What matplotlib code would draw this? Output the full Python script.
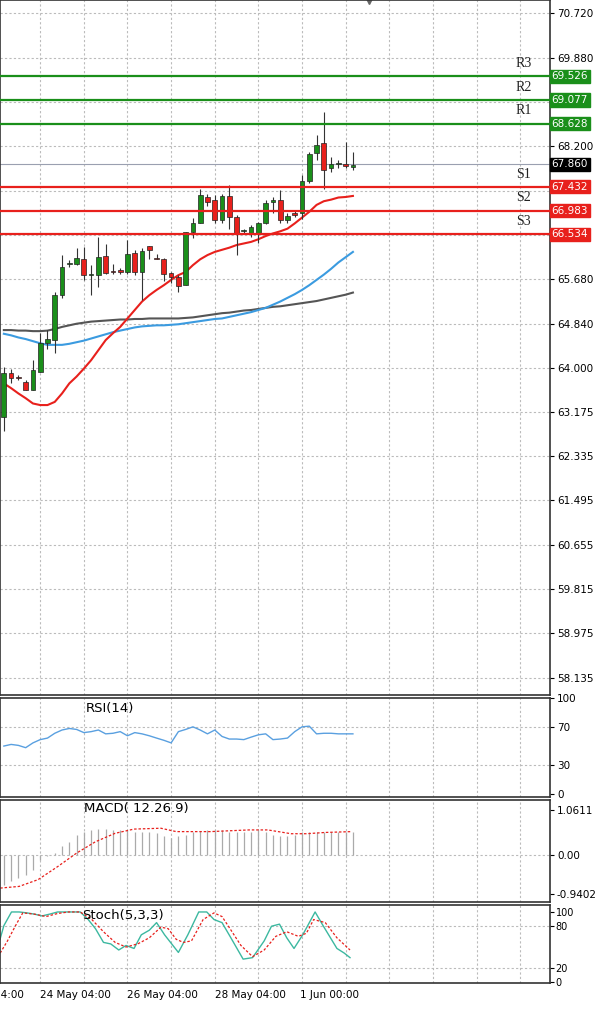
import matplotlib
matplotlib.use("Agg")
import matplotlib.pyplot as plt
import numpy as np

opens = [63.08,63.90,63.84,63.74,63.59,63.93,64.47,64.53,65.38,65.97,65.97,66.06,65.76,65.76,66.12,65.84,65.86,65.82,66.17,65.82,66.31,66.08,66.06,65.81,65.73,65.57,66.58,66.75,67.24,67.18,66.80,67.26,66.87,66.60,66.55,66.56,66.74,67.15,67.19,66.80,66.94,66.93,67.55,68.08,68.27,67.78,67.87,67.87,67.81]
closes = [63.90,63.81,63.81,63.59,63.96,64.47,64.56,65.38,65.92,65.98,66.08,65.76,65.76,66.11,65.81,65.82,65.82,66.16,65.82,66.22,66.23,66.06,65.79,65.73,65.55,66.58,66.74,67.28,67.15,66.80,67.26,66.87,66.56,66.60,66.68,66.74,67.13,67.18,66.80,66.88,66.90,67.55,68.06,68.23,67.76,67.87,67.87,67.82,67.84]
highs = [64.03,63.99,63.87,63.77,64.15,64.66,64.72,65.45,66.14,66.05,66.27,66.30,65.95,66.49,66.35,65.98,65.89,66.42,66.23,66.27,66.31,66.16,66.08,65.82,65.76,66.58,66.85,67.40,67.30,67.28,67.30,67.47,66.90,66.64,66.71,66.77,67.19,67.24,67.37,66.93,66.99,67.66,68.10,68.41,68.85,68.00,67.94,68.29,68.10]
lows = [62.80,63.71,63.77,63.59,63.59,63.93,64.37,64.28,65.32,65.92,65.95,65.67,65.38,65.54,65.79,65.79,65.79,65.79,65.76,65.29,66.06,66.06,65.64,65.62,65.45,65.57,66.46,66.74,67.06,66.75,66.74,66.64,66.14,66.55,66.49,66.36,66.73,66.93,66.74,66.75,66.87,66.83,67.50,67.94,67.40,67.72,67.78,67.78,67.76]

ma_red = [63.71,63.62,63.52,63.43,63.33,63.30,63.30,63.36,63.52,63.71,63.84,63.99,64.15,64.34,64.53,64.66,64.78,64.94,65.10,65.26,65.38,65.48,65.57,65.67,65.76,65.82,65.95,66.06,66.14,66.20,66.24,66.28,66.33,66.36,66.39,66.44,66.50,66.55,66.59,66.64,66.74,66.85,66.96,67.09,67.16,67.19,67.23,67.24,67.26]
ma_blue = [64.65,64.62,64.58,64.55,64.51,64.47,64.44,64.44,64.44,64.46,64.49,64.52,64.56,64.60,64.64,64.68,64.71,64.74,64.77,64.79,64.80,64.81,64.81,64.82,64.83,64.85,64.87,64.89,64.91,64.93,64.94,64.97,65.00,65.03,65.06,65.10,65.14,65.20,65.26,65.33,65.40,65.48,65.57,65.67,65.77,65.88,66.00,66.10,66.20]
ma_grey = [64.72,64.72,64.71,64.71,64.70,64.70,64.71,64.74,64.78,64.81,64.84,64.86,64.88,64.89,64.90,64.91,64.92,64.92,64.93,64.93,64.94,64.94,64.94,64.94,64.94,64.95,64.96,64.98,65.00,65.02,65.04,65.05,65.07,65.09,65.10,65.12,65.14,65.16,65.17,65.19,65.21,65.23,65.25,65.27,65.30,65.33,65.36,65.39,65.43]

level_names = ["R3","R2","R1","S1","S2","S3"]
level_values = [69.526,69.077,68.628,67.432,66.983,66.534]
last_price = 67.860

price_ticks = [70.720,69.880,69.040,68.200,67.360,66.520,65.680,64.840,64.000,63.175,62.335,61.495,60.655,59.815,58.975,58.135]
price_labels = ["70.720","69.880","","68.200","","","65.680","64.840","64.000","63.175","62.335","61.495","60.655","59.815","58.975","58.135"]

rsi = [50,51.7,50.7,48.3,53.3,56.7,58.3,63.3,66.7,68.3,67.3,64,65,66.7,62.7,63.3,65,60.7,64,62.7,60.7,58.3,56,53.3,65,67.3,70,66.7,62.7,66.7,60,57.3,57.3,56.7,59.3,61.7,62.7,56.7,57.3,58.3,65,70,70.7,62.7,63.3,63.3,62.7,62.7,62.7]

macd_hist = [-0.71,-0.63,-0.55,-0.47,-0.35,-0.12,-0.02,0.04,0.20,0.31,0.47,0.55,0.59,0.61,0.61,0.59,0.59,0.59,0.55,0.55,0.55,0.52,0.44,0.40,0.44,0.47,0.55,0.57,0.59,0.59,0.59,0.55,0.55,0.55,0.55,0.59,0.55,0.47,0.44,0.44,0.47,0.55,0.55,0.55,0.55,0.55,0.55,0.55,0.55]
sig_x = [-0.5,2.1,4.7,7.4,10,12.6,15.3,17.9,21.6,23.7,28.4,33.7,36.3,39.5,41.6,44.2,47.8]
sig_v = [-0.79,-0.75,-0.59,-0.28,0.04,0.31,0.51,0.61,0.63,0.55,0.55,0.59,0.59,0.50,0.50,0.53,0.55]

stk_x = [-0.53,0,1.05,2.1,3.16,4.2,5.26,6.3,7.4,8.4,9.5,10.5,11.6,12.6,13.7,14.7,15.8,16.8,17.9,18.9,20,21,22.1,24,25.3,26.8,27.9,28.9,30,31.1,32.9,34.2,35.8,36.8,37.9,38.9,39.9,41.1,42.8,43.9,45.8,46.8,47.6]
stk_k = [60.7,80.3,100,100,98.7,96.9,94.3,96.9,100,100,100,100,89.1,76,56.3,54.1,45.4,51.9,47.6,67.2,73.8,84.7,67.2,41.9,67.2,100,100,89.1,84.7,65,32.3,34.4,58.5,79.5,82.5,62.9,47.6,67.2,100,80.3,47.6,41,34.4]
std_x = [-0.5,0.5,1.6,2.6,4.2,5.8,7.4,8.9,10.5,12.1,13.7,15.3,16.8,18.4,20,21.6,22.6,23.7,24.7,25.8,27.4,28.9,30,31.1,32.6,34.2,35.8,37.4,38.9,40.5,41.6,42.6,44.2,45.8,47.6]
std_d = [41,58.5,80.3,98.7,96.9,93.4,97.8,100,100,89.1,71.6,56.3,49.7,54.1,62.9,78.2,76,60.7,56.3,58.5,89.1,98.7,93.4,76,51.9,35.8,45.4,65,71.6,65,69.4,89.1,84.7,62.9,45.4]

xtick_pos = [-7,5,17,29,40.7]
xtick_labels = ["23 May 04:00","24 May 04:00","26 May 04:00","28 May 04:00","1 Jun 00:00"]
vgrid = [5,11,17,23,29,35,41,47,53,59,65,71]

W, H = 600, 1013
fig = plt.figure(figsize=(6, 10.13), dpi=100)
XL = (-0.53, 75.1)
GREEN = "#1a8f1a"; RED = "#e8201c"

def mk(top, bot):
    return fig.add_axes([0, (H-bot)/H, 550/W, (bot-top)/H])

ax = mk(0, 695); ar = mk(698, 797); am = mk(800, 902); ast = mk(905, 983)
for a in (ax, ar, am, ast):
    a.set_xlim(*XL)
    a.yaxis.tick_right()
    a.tick_params(axis='y', labelsize=7.5, length=3, pad=2)
    a.tick_params(axis='x', length=0)
    a.set_xticks([])
    for v in vgrid:
        a.axvline(v, color="#bbbbbb", ls=(0,(2,2)), lw=0.8, zorder=0)
    for s in a.spines.values():
        s.set_color("#333333"); s.set_linewidth(1.2)

# main
ax.set_ylim(57.81, 70.97)
ax.set_yticks(price_ticks); ax.set_yticklabels(price_labels)
for p in price_ticks:
    ax.axhline(p, color="#bbbbbb", ls=(0,(2,2)), lw=0.8, zorder=0)
idx = np.arange(len(opens))
for i in idx:
    o, c, h, l = opens[i], closes[i], highs[i], lows[i]
    col = GREEN if c >= o else RED
    ax.vlines(i, l, h, color="#333333", lw=0.8, zorder=3)
    ax.bar(i, max(abs(c-o), 0.02), bottom=min(o, c), width=0.65, color=col, edgecolor="#222222", lw=0.5, zorder=4)
ax.plot(idx, ma_grey, color="#555555", lw=1.5, zorder=2)
ax.plot(idx, ma_blue, color="#3b9be0", lw=1.5, zorder=2)
ax.plot(idx, ma_red, color="#e8201c", lw=1.5, zorder=2)
ax.axhline(last_price, color="#9aa0b0", lw=0.8, zorder=1)
for n, v in zip(level_names, level_values):
    col = GREEN if n.startswith("R") else RED
    ax.axhline(v, color=col, lw=1.6, zorder=5)
    ax.text(71.5, v + 0.12, n, fontsize=10, family="Liberation Serif", ha="center", va="bottom", color="#222222")
    ax.annotate(f"{v:.3f}", xy=(1.003, v), xycoords=('axes fraction', 'data'), fontsize=7.5, color="white",
                va="center", ha="left", annotation_clip=False,
                bbox=dict(boxstyle="square,pad=0.15", fc=col, ec=col))
ax.annotate(f"{last_price:.3f}", xy=(1.003, last_price), xycoords=('axes fraction', 'data'), fontsize=7.5, color="white",
            va="center", ha="left", annotation_clip=False,
            bbox=dict(boxstyle="square,pad=0.15", fc="black", ec="black"))

# RSI
ar.set_ylim(-3, 100)
ar.set_yticks([0, 30, 70, 100])
for v in (30, 70):
    ar.axhline(v, color="#bbbbbb", ls=(0,(2,2)), lw=0.8, zorder=0)
ar.plot(idx, rsi, color="#5aa0e0", lw=1)
ar.text(11.2, 96, "RSI(14)", fontsize=9.5, va="top")

# MACD
am.set_ylim(-1.12, 1.30)
am.set_yticks([-0.9402, 0, 1.0611]); am.set_yticklabels(["-0.9402", "0.00", "1.0611"])
am.axhline(0, color="#bbbbbb", ls=(0,(2,2)), lw=0.8, zorder=0)
am.vlines(idx, 0, macd_hist, color="#aaaaaa", lw=0.9)
am.plot(sig_x, sig_v, color="#e8201c", ls=(0,(2,1.5)), lw=0.9)
am.text(11, 1.25, "MACD( 12.26.9)", fontsize=9.5, va="top")

# Stoch
ast.set_ylim(-2, 110)
ast.set_yticks([0, 20, 80, 100])
ast.tick_params(axis='y', labelsize=7, pad=1)
ast.axhline(20, color="#bbbbbb", ls=(0,(2,2)), lw=0.8, zorder=0)
ast.axhline(80, color="#bbbbbb", ls=(0,(2,2)), lw=0.8, zorder=0)
ast.plot(stk_x, stk_k, color="#3cb8a0", lw=1)
ast.plot(std_x, std_d, color="#e8201c", ls=(0,(2,1.5)), lw=0.9)
ast.text(10.8, 104, "Stoch(5,3,3)", fontsize=9.5, va="top")

for p, lab in zip(xtick_pos, xtick_labels):
    ast.text(p, -12, lab, fontsize=7.5, ha="left", va="top", clip_on=False)

ax.plot([50.2], [70.97], marker="v", color="#666666", ms=6, clip_on=False)

fig.savefig("out.png", dpi=100, facecolor="white")
